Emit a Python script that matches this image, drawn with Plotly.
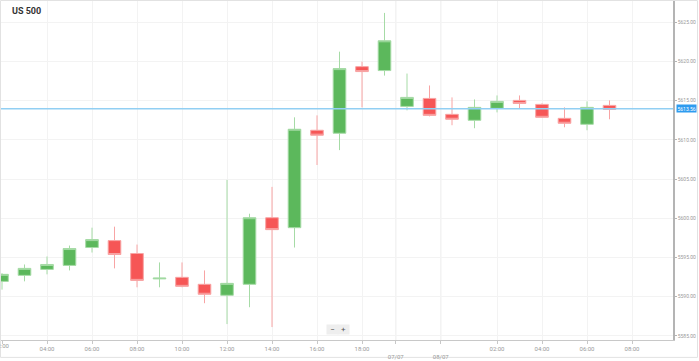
import plotly.graph_objects as go

# ---- data ----
candle_index = list(range(28))
open_ = [5591.95, 5592.72, 5593.48, 5593.99, 5596.27, 5597.15, 5595.51, 5592.27, 5592.47, 5591.58,
         5590.18, 5591.58, 5600.07, 5598.80, 5611.22, 5610.84, 5619.33, 5618.83, 5614.26, 5615.28,
         5613.25, 5612.49, 5614.01, 5615.03, 5614.52, 5612.74, 5611.98, 5614.39]
high = [5593.00, 5594.11, 5595.13, 5596.52, 5598.80, 5598.93, 5596.65, 5594.37, 5594.37, 5593.35,
        5604.89, 5600.58, 5604.00, 5612.87, 5613.12, 5621.24, 5619.97, 5626.18, 5618.45, 5616.93,
        5615.41, 5615.15, 5615.66, 5615.66, 5614.65, 5614.14, 5614.90, 5615.03]
low = [5590.90, 5591.96, 5592.85, 5593.35, 5595.63, 5593.61, 5591.20, 5591.20, 5591.20, 5589.17,
       5586.51, 5588.66, 5586.13, 5596.27, 5606.79, 5608.69, 5614.14, 5618.19, 5613.76, 5612.99,
       5611.86, 5611.48, 5613.50, 5614.01, 5612.80, 5611.60, 5611.22, 5612.62]
close = [5592.85, 5593.61, 5594.11, 5596.14, 5597.28, 5595.38, 5592.08, 5592.37, 5591.32, 5590.31,
         5591.70, 5600.07, 5598.55, 5611.35, 5610.59, 5619.08, 5618.70, 5622.63, 5615.41, 5613.12,
         5612.62, 5614.14, 5614.90, 5614.64, 5612.87, 5612.11, 5614.14, 5613.88]

x_tick_vals = [0, 2, 4, 6, 8, 10, 12, 14, 16, 17.5, 19.5, 22, 24, 26, 28]
x_tick_text = ["02:00", "04:00", "06:00", "08:00", "10:00", "12:00", "14:00", "16:00", "18:00",
               "<br>07/07", "<br>08/07", "02:00", "04:00", "06:00", "08:00"]
day_breaks = [17.5, 19.5]
y_tick_vals = [5585, 5590, 5595, 5600, 5605, 5610, 5615, 5620, 5625]
y_tick_text = ["%.2f" % v for v in y_tick_vals]

price_level = 5613.95
price_label = "5613.56"
title_text = "US 500"

# ---- figure ----
fig = go.Figure()
fig.add_trace(go.Candlestick(
    x=candle_index, open=open_, high=high, low=low, close=close,
    increasing=dict(fillcolor="#5cb85c", line=dict(color="#a6dba6", width=1)),
    decreasing=dict(fillcolor="#f65656", line=dict(color="#f8a4a4", width=1)),
    whiskerwidth=0, showlegend=False, hoverinfo="skip",
))

L, R, T, B = 1, 26, 1, 19
W, H = 699, 361
pw, ph = W - L - R, H - T - B

def px_x(px):
    return (px - L) / pw

def px_y(py):
    return (H - B - py) / ph

shapes = []
for d in day_breaks:
    shapes.append(dict(type="line", xref="x", yref="paper", x0=d, x1=d, y0=0, y1=1,
                       line=dict(color="#e4e4e4", width=1), layer="below"))
shapes.append(dict(type="line", xref="paper", yref="y", x0=0, x1=1, y0=price_level, y1=price_level,
                   line=dict(color="#92cff3", width=1.5), layer="above"))
# outer frame
shapes.append(dict(type="rect", xref="paper", yref="paper",
                   x0=px_x(0.5), x1=px_x(697.5), y0=px_y(359.5), y1=px_y(0.5),
                   line=dict(color="#e2e2e2", width=1), layer="below"))

tick_font = dict(family="Roboto", size=6, color="#9a9a9a")
annotations = [
    dict(text="<b>" + title_text + "</b>", xref="paper", yref="paper", x=px_x(10), y=px_y(11),
         xanchor="left", yanchor="middle", showarrow=False,
         font=dict(family="Roboto", size=9, color="#333333")),
    dict(text=price_label, xref="paper", yref="y", x=px_x(676), y=price_level,
         xanchor="left", yanchor="middle", showarrow=False, bgcolor="#2e9bef",
         borderpad=0.5, font=dict(family="Roboto", size=5, color="#ffffff")),
    dict(text="−", xref="paper", yref="paper", x=px_x(332), y=px_y(331.5),
         xanchor="center", yanchor="middle", showarrow=False, bgcolor="#eeeeee",
         width=9, height=7, font=dict(family="Roboto", size=8, color="#555555")),
    dict(text="+", xref="paper", yref="paper", x=px_x(343), y=px_y(331.5),
         xanchor="center", yanchor="middle", showarrow=False, bgcolor="#eeeeee",
         width=9, height=7, font=dict(family="Roboto", size=8, color="#555555")),
    # first tick label, partly cut by the left edge as in the reference
    dict(text=x_tick_text[0], xref="x", yref="paper", x=x_tick_vals[0], y=px_y(347.5),
         xanchor="center", yanchor="middle", showarrow=False, font=tick_font),
]

x0 = -1 / 22.5
fig.update_layout(
    width=W, height=H, margin=dict(l=L, r=R, t=T, b=B),
    paper_bgcolor="white", plot_bgcolor="white",
    boxgap=0.2,
    shapes=shapes, annotations=annotations,
    xaxis=dict(range=[x0, x0 + pw / 22.5], rangeslider=dict(visible=False),
               tickmode="array", tickvals=x_tick_vals, ticktext=x_tick_text,
               showgrid=True, gridcolor="#f3f3f3", gridwidth=1,
               showline=True, linecolor="#c8c8c8", linewidth=1,
               ticks="outside", ticklen=3, tickcolor="#c8c8c8",
               tickfont=tick_font,
               zeroline=False, fixedrange=True),
    yaxis=dict(range=[5584.48, 5627.70], side="right",
               tickmode="array", tickvals=y_tick_vals, ticktext=y_tick_text,
               showgrid=True, gridcolor="#f3f3f3", gridwidth=1,
               showline=True, linecolor="#b4b4b4", linewidth=1.5,
               ticks="outside", ticklen=2, tickcolor="#b4b4b4",
               tickfont=dict(family="Roboto", size=5, color="#9a9a9a"),
               zeroline=False, fixedrange=True),
)

fig.write_html("out.html", config={"displayModeBar": False},
               post_script="document.body.style.margin='0px';")
